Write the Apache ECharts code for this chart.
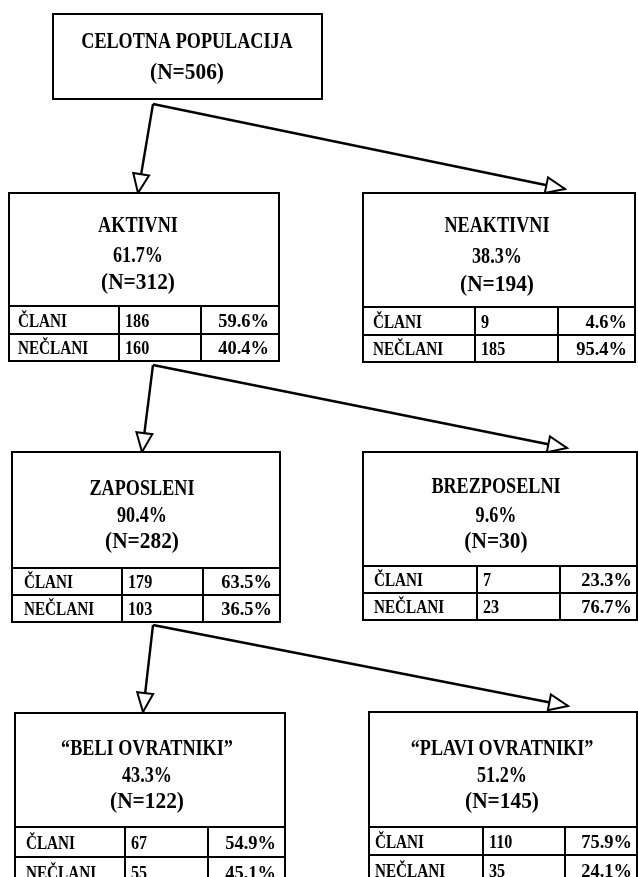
<!DOCTYPE html>
<html>
<head>
<meta charset="utf-8">
<script src="https://cdn.jsdelivr.net/npm/echarts@6/dist/echarts.min.js"></script>
<style>html,body{margin:0;padding:0;background:#fff}#c{width:638px;height:877px}</style>
</head>
<body>
<div id="c"></div>
<script>
// ---------- DATA ----------
const nodeTitles = ['CELOTNA POPULACIJA', 'AKTIVNI', 'NEAKTIVNI', 'ZAPOSLENI', 'BREZPOSELNI', '\u201CBELI OVRATNIKI\u201D', '\u201CPLAVI OVRATNIKI\u201D'];
const nodeShares = [null, 61.7, 38.3, 90.4, 9.6, 43.3, 51.2];
const nodeN = [506, 312, 194, 282, 30, 122, 145];
const parentOf = [-1, 0, 0, 1, 1, 3, 3];
const rowLabels = ['ČLANI', 'NEČLANI'];
const memberCounts = [null, 186, 9, 179, 7, 67, 110];
const memberPcts = [null, 59.6, 4.6, 63.5, 23.3, 54.9, 75.9];
const nonMemberCounts = [null, 160, 185, 103, 23, 55, 35];
const nonMemberPcts = [null, 40.4, 95.4, 36.5, 76.7, 45.1, 24.1];

// ---------- LAYOUT (diagram geometry, in hidden-axis units) ----------
const layout = [
  {x: 53, y: 14, w: 269, bottom: 99, lines: [42, 73], cx: 187, outX: 153, outY: 104},
  {x: 9, y: 193, w: 270, tableTop: 306, rows: [28, 27], cols: [119, 201], lines: [226, 256, 283], cx: 138, tipX: 138, tipY: 193, outX: 153, outY: 365, lab: 9, pad: 10},
  {x: 363, y: 193, w: 272, tableTop: 307, rows: [28, 27], cols: [475, 558], lines: [226, 257, 285], cx: 497, tipX: 565, tipY: 189, lab: 10, pad: 8},
  {x: 12, y: 452, w: 268, tableTop: 568, rows: [27, 27], cols: [122, 203], lines: [489, 516, 542], cx: 142, tipX: 142, tipY: 452, outX: 153, outY: 625, lab: 12, pad: 8},
  {x: 363, y: 452, w: 274, tableTop: 566, rows: [27, 27], cols: [477, 560], lines: [487, 516, 542], cx: 496, tipX: 567, tipY: 448, lab: 11, pad: 5},
  {x: 15, y: 713, w: 270, tableTop: 827, rows: [30, 30], cols: [125, 208], lines: [749, 776, 802], cx: 147, tipX: 143, tipY: 712, lab: 11, pad: 9},
  {x: 369, y: 712, w: 268, tableTop: 827, rows: [28, 30], cols: [483, 565], lines: [749, 776, 802], cx: 502, tipX: 568, tipY: 706, lab: 6, pad: 5}
];

const FONT = '"Liberation Serif", "Times New Roman", serif';
const HEAD_FONT = 'bold 23px ' + FONT;
const CELL_FONT = 'bold 19px ' + FONT;
const SX = 0.79;
const SX_N = 0.93;

function txt(pt, text, font, align, sx) {
  return {
    type: 'text', x: pt[0], y: pt[1], scaleX: sx, originX: 0, originY: 0,
    style: {x: 0, y: 0, text: text, font: font, fill: '#000', textAlign: align, textVerticalAlign: 'middle'}
  };
}

function renderItem(params, api) {
  const i = api.value(2);
  const L = layout[i];
  const P = (x, y) => api.coord([x, y]);
  const kids = [];
  const bottom = L.tableTop != null ? L.tableTop + L.rows[0] + L.rows[1] : L.bottom;
  const a = P(L.x, L.y), b = P(L.x + L.w, bottom);
  // edge from parent
  const par = parentOf[i];
  if (par >= 0) {
    const s = P(layout[par].outX, layout[par].outY);
    const t = P(L.tipX, L.tipY);
    kids.push({type: 'line', shape: {x1: s[0], y1: s[1], x2: t[0], y2: t[1]}, style: {stroke: '#000', lineWidth: 2.4}});
    const dx = t[0] - s[0], dy = t[1] - s[1], len = Math.hypot(dx, dy);
    const ux = dx / len, uy = dy / len;
    const hl = 19, hw = 8;
    const bx = t[0] - ux * hl, by = t[1] - uy * hl;
    kids.push({type: 'polygon', shape: {points: [[t[0], t[1]], [bx - uy * hw, by + ux * hw], [bx + uy * hw, by - ux * hw]]},
      style: {fill: '#fff', stroke: '#000', lineWidth: 2}});
  }
  // box
  kids.push({type: 'rect', shape: {x: a[0], y: a[1], width: b[0] - a[0], height: b[1] - a[1]}, style: {fill: '#fff', stroke: '#000', lineWidth: 2}});
  // header text
  const lines = [[nodeTitles[i], SX]];
  if (nodeShares[i] != null) lines.push([nodeShares[i].toFixed(1) + '%', SX]);
  lines.push(['(N=' + nodeN[i] + ')', SX_N]);
  lines.forEach((s, k) => kids.push(txt(P(L.cx, L.lines[k]), s[0], HEAD_FONT, 'center', s[1])));
  // table
  if (L.tableTop != null) {
    const r1 = L.tableTop + L.rows[0];
    [L.tableTop, r1].forEach(yy => {
      const p1 = P(L.x, yy), p2 = P(L.x + L.w, yy);
      kids.push({type: 'line', shape: {x1: p1[0], y1: p1[1], x2: p2[0], y2: p2[1]}, style: {stroke: '#000', lineWidth: 2}});
    });
    L.cols.forEach(xx => {
      const p1 = P(xx, L.tableTop), p2 = P(xx, bottom);
      kids.push({type: 'line', shape: {x1: p1[0], y1: p1[1], x2: p2[0], y2: p2[1]}, style: {stroke: '#000', lineWidth: 2}});
    });
    const rowVals = [[memberCounts[i], memberPcts[i]], [nonMemberCounts[i], nonMemberPcts[i]]];
    let top = L.tableTop;
    rowVals.forEach((rv, r) => {
      const cy = top + L.rows[r] / 2 + 2;
      kids.push(txt(P(L.x + L.lab, cy), rowLabels[r], CELL_FONT, 'left', 0.8));
      kids.push(txt(P(L.cols[0] + 6, cy), String(rv[0]), CELL_FONT, 'left', 0.85));
      kids.push(txt(P(L.x + L.w - L.pad, cy), rv[1].toFixed(1) + '%', CELL_FONT, 'right', 0.97));
      top += L.rows[r];
    });
  }
  return {type: 'group', children: kids};
}

const chart = echarts.init(document.getElementById('c'), null, {renderer: 'canvas'});
chart.setOption({
  backgroundColor: '#fff',
  animation: false,
  grid: {left: 0, right: 0, top: 0, bottom: 0},
  xAxis: {type: 'value', min: 0, max: 638, show: false},
  yAxis: {type: 'value', min: 0, max: 877, inverse: true, show: false},
  series: [{
    type: 'custom',
    clip: false,
    renderItem: renderItem,
    encode: {x: 0, y: 1},
    data: layout.map((L, i) => [L.x, L.y, i])
  }]
});
</script>
</body>
</html>
